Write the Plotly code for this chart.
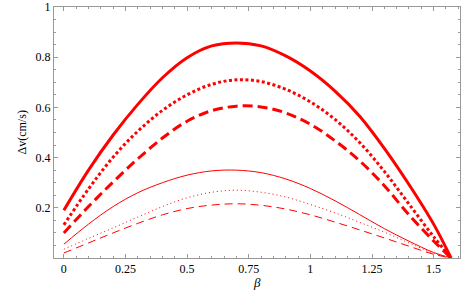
import plotly.graph_objects as go

# beta values (radians)
beta = [0.0, 0.1, 0.2, 0.3, 0.4, 0.5, 0.6, 0.7, 0.8, 0.9, 1.0, 1.1, 1.2, 1.3, 1.4, 1.5, 1.5708]

# Delta v (cm/s)
thick_solid  = [0.190, 0.350, 0.490, 0.612, 0.718, 0.798, 0.845, 0.857, 0.845, 0.805, 0.745, 0.665, 0.565, 0.437, 0.293, 0.135, 0.0]
thick_dotted = [0.132, 0.275, 0.402, 0.505, 0.588, 0.650, 0.692, 0.710, 0.703, 0.672, 0.622, 0.552, 0.460, 0.345, 0.215, 0.085, 0.0]
thick_dashed = [0.100, 0.205, 0.303, 0.395, 0.478, 0.545, 0.587, 0.605, 0.602, 0.578, 0.533, 0.467, 0.387, 0.288, 0.172, 0.068, 0.0]
thin_solid   = [0.055, 0.135, 0.205, 0.260, 0.300, 0.330, 0.347, 0.350, 0.340, 0.315, 0.277, 0.228, 0.173, 0.117, 0.067, 0.022, 0.0]
thin_dotted  = [0.035, 0.078, 0.120, 0.163, 0.205, 0.240, 0.262, 0.270, 0.262, 0.243, 0.213, 0.180, 0.142, 0.103, 0.060, 0.019, 0.0]
thin_dashed  = [0.020, 0.060, 0.100, 0.138, 0.172, 0.197, 0.211, 0.216, 0.210, 0.195, 0.172, 0.143, 0.112, 0.080, 0.047, 0.015, 0.0]

x_tickvals = [0, 0.25, 0.5, 0.75, 1.0, 1.25, 1.5]
x_ticktext = ["0", "0.25", "0.5", "0.75", "1", "1.25", "1.5"]
y_tickvals = [0.2, 0.4, 0.6, 0.8, 1.0]
y_ticktext = ["0.2", "0.4", "0.6", "0.8", "1"]

RED = "#ff0000"
FRAME = "#999999"
FONT = "Liberation Serif"

series = [
    (thick_solid, 3.0, "solid"),
    (thick_dotted, 3.0, "3px,2.5px"),
    (thick_dashed, 3.0, "10px,5px"),
    (thin_solid, 1.0, "solid"),
    (thin_dotted, 1.0, "1px,3px"),
    (thin_dashed, 1.0, "8px,5px"),
]

fig = go.Figure()
for ys, w, d in series:
    fig.add_trace(go.Scatter(x=beta, y=ys, mode="lines",
                             line=dict(color=RED, width=w, dash=d, shape="spline", smoothing=1.0),
                             showlegend=False, hoverinfo="skip"))

axis_common = dict(
    showgrid=False, zeroline=False, showline=True, linecolor=FRAME, linewidth=1,
    mirror="allticks", ticks="inside", ticklen=4, tickcolor=FRAME, tickwidth=1,
    automargin=False,
    tickfont=dict(family=FONT, size=12, color="black"),
)

fig.update_layout(
    width=474, height=293,
    margin=dict(l=54, r=14, t=7, b=35),
    paper_bgcolor="white", plot_bgcolor="white",
    xaxis=dict(range=[-0.04, 1.607], tickmode="array", tickvals=x_tickvals, ticktext=x_ticktext,
               minor=dict(tickmode="linear", tick0=0, dtick=0.05, ticks="inside", ticklen=2, tickcolor=FRAME),
               **axis_common),
    yaxis=dict(range=[0, 1.0], tickmode="array", tickvals=y_tickvals, ticktext=y_ticktext,
               minor=dict(tickmode="linear", tick0=0, dtick=0.05, ticks="inside", ticklen=2, tickcolor=FRAME),
               **axis_common),
    annotations=[
        dict(text="Δv(cm/s)", xref="paper", yref="paper", x=0, y=0.5, xshift=-33, textangle=-90,
             showarrow=False, xanchor="center", yanchor="middle", font=dict(family=FONT, size=12, color="black")),
        dict(text="<i>β</i>", xref="paper", yref="paper", x=0.5, y=0, yshift=-24,
             showarrow=False, xanchor="center", yanchor="middle", font=dict(family=FONT, size=13, color="black")),
    ],
)

fig.write_html("out.html", config={"displayModeBar": False},
               post_script="document.body.style.margin='0';document.body.style.overflow='hidden';")
